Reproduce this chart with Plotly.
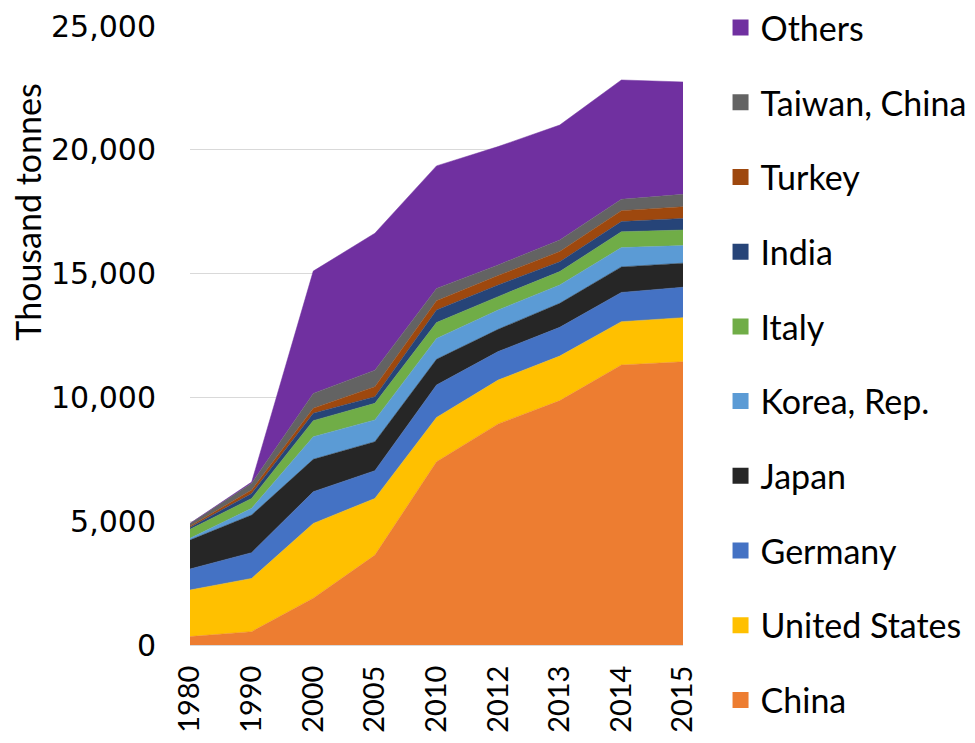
import plotly.graph_objects as go

years = ["1980", "1990", "2000", "2005", "2010", "2012", "2013", "2014", "2015"]

china = [340, 540, 1890, 3630, 7400, 8930, 9870, 11310, 11440]
united_states = [1880, 2150, 3020, 2290, 1790, 1770, 1800, 1750, 1780]
germany = [850, 1040, 1280, 1120, 1310, 1150, 1160, 1180, 1230]
japan = [1170, 1520, 1310, 1170, 1040, 900, 970, 1030, 970]
korea = [70, 270, 910, 880, 840, 780, 740, 780, 710]
italy = [360, 400, 650, 670, 640, 540, 540, 640, 630]
india = [80, 200, 300, 270, 510, 470, 400, 410, 470]
turkey = [50, 140, 200, 400, 370, 380, 410, 440, 470]
taiwan = [110, 270, 600, 670, 500, 430, 470, 460, 500]
others = [0, 50, 4940, 5530, 4950, 4780, 4640, 4820, 4540]

series = [
    ("China", china, "#ED7D31"),
    ("United States", united_states, "#FFC000"),
    ("Germany", germany, "#4472C4"),
    ("Japan", japan, "#262626"),
    ("Korea, Rep.", korea, "#5B9BD5"),
    ("Italy", italy, "#70AD47"),
    ("India", india, "#264478"),
    ("Turkey", turkey, "#9E480E"),
    ("Taiwan, China", taiwan, "#636363"),
    ("Others", others, "#7030A0"),
]

fig = go.Figure()
for name, vals, col in series:
    fig.add_trace(go.Scatter(
        x=years, y=vals, name=name, stackgroup="one", mode="lines",
        line=dict(width=0.5, color=col), fillcolor=col, showlegend=False,
    ))
# legend entries (square swatches), top entry = Others
for i, (name, vals, col) in enumerate(reversed(series)):
    fig.add_trace(go.Scatter(
        x=[None], y=[None], name=name, mode="markers",
        marker=dict(symbol="square", size=21, color=col),
        legendgroup="g%d" % i, showlegend=True,
    ))

fig.update_layout(
    width=959, height=727,
    margin=dict(l=182, r=284, t=18, b=90, autoexpand=False),
    paper_bgcolor="white", plot_bgcolor="white",
    font=dict(family="Lato", color="black"),
    showlegend=True,
    legend=dict(
        xref="container", yref="paper",
        x=0.743, xanchor="left", y=1.0436, yanchor="top",
        traceorder="grouped", tracegroupgap=27.5,
        font=dict(family="Lato", size=34, color="black"),
        itemwidth=30, bgcolor="rgba(0,0,0,0)", maxheight=1.0,
    ),
    xaxis=dict(
        type="category", range=[0, 8], tickangle=-90,
        tickfont=dict(family="Lato", size=29, color="black"),
        showgrid=False, showline=True, linecolor="#D9D9D9", linewidth=1,
        ticks="", zeroline=False, automargin=False, ticklabelstandoff=8,
    ),
    yaxis=dict(
        range=[0, 25000], dtick=5000, tickformat=",",
        tickfont=dict(family="DejaVu Sans", size=30, color="black"),
        showgrid=True, gridcolor="#D9D9D9", gridwidth=1,
        showline=False, zeroline=False, ticks="", automargin=False,
        ticklabelstandoff=33,
    ),
    annotations=[dict(
        text="Thousand tonnes", textangle=-90, xref="paper", yref="paper",
        x=-0.330, y=0.699, xanchor="center", yanchor="middle", showarrow=False,
        font=dict(family="Lato", size=34, color="black"),
    )],
)

fig.write_html("out.html")
